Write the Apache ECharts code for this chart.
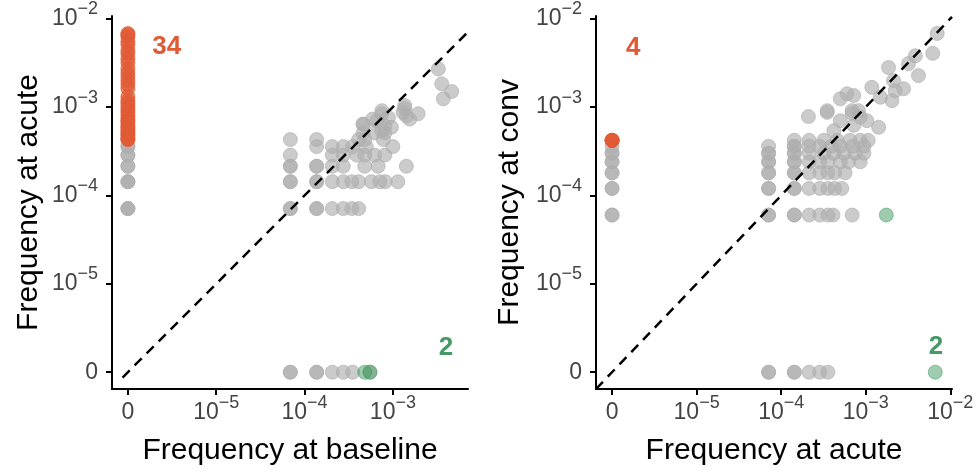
<!DOCTYPE html>
<html>
<head>
<meta charset="utf-8">
<script src="https://cdn.jsdelivr.net/npm/echarts@6/dist/echarts.min.js"></script>
<style>
  html, body { margin: 0; padding: 0; background: #fff; }
  #main { width: 976px; height: 475px; }
</style>
</head>
<body>
<div id="main"></div>
<script>
// frequencies; 0 is drawn at the 1e-6 position
var leftGray = [
    // baseline = 0
    [0, 7.1e-5], [0, 7.1e-5], [0, 7.1e-5], [0, 1.43e-4], [0, 1.43e-4], [0, 1.43e-4],
    [0, 2.14e-4], [0, 2.14e-4], [0, 2.86e-4], [0, 2.86e-4], [0, 3.57e-4], [0, 3.57e-4],
    // acute = 0
    [6.9e-5, 0], [6.9e-5, 0], [1.37e-4, 0], [1.37e-4, 0], [2.06e-4, 0], [2.74e-4, 0], [3.5e-4, 0], [5.5e-4, 0],
    // rows of low counts
    [6.9e-5, 7.1e-5], [6.9e-5, 7.1e-5], [1.37e-4, 7.1e-5], [1.37e-4, 7.1e-5], [2.06e-4, 7.1e-5],
    [2.74e-4, 7.1e-5], [3.43e-4, 7.1e-5], [4.1e-4, 7.1e-5],
    [6.9e-5, 1.43e-4], [6.9e-5, 1.43e-4], [1.37e-4, 1.43e-4], [1.37e-4, 1.43e-4], [2.06e-4, 1.43e-4],
    [2.74e-4, 1.43e-4], [3.43e-4, 1.43e-4], [4.1e-4, 1.43e-4], [5.7e-4, 1.43e-4], [7.1e-4, 1.43e-4],
    [8.2e-4, 1.43e-4], [1.14e-3, 1.43e-4],
    [6.9e-5, 2.14e-4], [6.9e-5, 2.14e-4], [1.37e-4, 2.14e-4], [1.37e-4, 2.14e-4], [2.06e-4, 2.14e-4],
    [2.74e-4, 2.14e-4], [4.8e-4, 2.14e-4], [6.8e-4, 2.14e-4], [1.42e-3, 2.14e-4],
    [6.9e-5, 2.86e-4], [2.06e-4, 2.86e-4], [2.74e-4, 2.86e-4], [3.9e-4, 2.86e-4], [4.8e-4, 2.86e-4],
    [6.2e-4, 2.86e-4], [8.1e-4, 2.86e-4],
    [1.37e-4, 3.57e-4], [2.06e-4, 3.57e-4], [2.74e-4, 3.57e-4], [3.5e-4, 3.57e-4], [5.0e-4, 3.57e-4],
    [1.0e-3, 3.57e-4],
    [6.9e-5, 4.29e-4], [1.37e-4, 4.29e-4], [4.1e-4, 4.29e-4], [4.8e-4, 4.29e-4], [7.8e-4, 4.29e-4],
    // upper cluster
    [4.6e-4, 5.1e-4], [6.2e-4, 5.1e-4], [8.1e-4, 5.1e-4], [4.6e-4, 6.4e-4], [4.6e-4, 6.4e-4],
    [8.1e-4, 6.1e-4], [5.9e-4, 7.3e-4], [6.6e-4, 7.0e-4], [7.5e-4, 8.4e-4], [7.5e-4, 9.1e-4],
    [8.9e-4, 7.6e-4], [9.6e-4, 5.9e-4], [7.5e-4, 5.4e-4], [1.36e-3, 1.04e-3], [1.36e-3, 9.6e-4],
    [1.30e-3, 8.7e-4], [1.55e-3, 7.3e-4], [1.93e-3, 8.4e-4], [1.42e-3, 7.9e-4],
    [3.27e-3, 2.7e-3], [3.57e-3, 1.83e-3], [4.63e-3, 1.5e-3], [3.72e-3, 1.24e-3]
];
var leftOrangeAcute = [
    6.78e-3, 6.59e-3, 6.26e-3, 5.50e-3, 5.08e-3, 4.35e-3, 4.02e-3, 3.53e-3, 3.18e-3, 2.72e-3,
    2.45e-3, 2.21e-3, 1.99e-3, 1.80e-3, 1.62e-3, 1.31e-3, 1.18e-3, 1.10e-3, 1.01e-3, 9.4e-4,
    8.7e-4, 8.0e-4, 7.4e-4, 7.0e-4, 6.7e-4, 6.2e-4, 5.9e-4, 5.6e-4, 5.3e-4, 5.0e-4,
    4.8e-4, 4.5e-4, 4.3e-4, 4.3e-4
];
var leftGreen = [[4.8e-4, 0], [5.5e-4, 0]];

var rightGray = [
    // acute = 0
    [0, 6e-5], [0, 6e-5], [0, 1.2e-4], [0, 1.2e-4], [0, 1.8e-4], [0, 1.8e-4],
    [0, 2.4e-4], [0, 2.4e-4], [0, 3.0e-4], [0, 3.0e-4], [0, 3.6e-4],
    // conv = 0
    [7.1e-5, 0], [7.1e-5, 0], [1.43e-4, 0], [1.43e-4, 0], [2.14e-4, 0], [2.86e-4, 0], [3.57e-4, 0],
    // rows of low counts
    [7.1e-5, 6e-5], [7.1e-5, 6e-5], [1.43e-4, 6e-5], [1.43e-4, 6e-5], [2.14e-4, 6e-5], [2.86e-4, 6e-5],
    [3.57e-4, 6e-5], [4.1e-4, 6e-5], [6.9e-4, 6e-5],
    [7.1e-5, 1.2e-4], [7.1e-5, 1.2e-4], [1.43e-4, 1.2e-4], [1.43e-4, 1.2e-4], [2.14e-4, 1.2e-4],
    [2.86e-4, 1.2e-4], [3.57e-4, 1.2e-4], [4.29e-4, 1.2e-4], [5.2e-4, 1.2e-4],
    [7.1e-5, 1.8e-4], [7.1e-5, 1.8e-4], [1.43e-4, 1.8e-4], [1.43e-4, 1.8e-4], [2.14e-4, 1.8e-4],
    [2.86e-4, 1.8e-4], [3.57e-4, 1.8e-4], [4.29e-4, 1.8e-4], [5.7e-4, 1.8e-4],
    [7.1e-5, 2.4e-4], [7.1e-5, 2.4e-4], [1.43e-4, 2.4e-4], [1.43e-4, 2.4e-4], [2.14e-4, 2.4e-4],
    [2.86e-4, 2.4e-4], [3.57e-4, 2.4e-4], [5.0e-4, 2.4e-4], [6.3e-4, 2.4e-4], [8.6e-4, 2.4e-4],
    [7.1e-5, 3.0e-4], [7.1e-5, 3.0e-4], [1.43e-4, 3.0e-4], [1.43e-4, 3.0e-4], [2.14e-4, 3.0e-4],
    [3.2e-4, 3.0e-4], [4.2e-4, 3.0e-4], [5.5e-4, 3.0e-4], [7.5e-4, 3.0e-4], [9.5e-4, 3.0e-4],
    [7.1e-5, 3.6e-4], [1.43e-4, 3.6e-4], [1.43e-4, 3.6e-4], [2.14e-4, 3.6e-4], [2.86e-4, 3.6e-4],
    [3.9e-4, 3.6e-4], [5.0e-4, 3.6e-4], [7.0e-4, 3.6e-4], [9.5e-4, 3.6e-4],
    [1.43e-4, 4.2e-4], [2.14e-4, 4.2e-4], [3.2e-4, 4.2e-4], [4.6e-4, 4.2e-4], [6.5e-4, 4.2e-4],
    [8.6e-4, 4.2e-4], [1.07e-3, 4.2e-4],
    // upper cluster
    [4.2e-4, 5.4e-4], [7.2e-4, 6.2e-4], [5.0e-4, 7.0e-4], [1.03e-3, 7.0e-4], [1.42e-3, 5.9e-4],
    [8.6e-4, 7.7e-4], [2.1e-4, 7.8e-4], [3.5e-4, 8.7e-4], [3.5e-4, 9.1e-4], [8.2e-4, 9.1e-4],
    [6.9e-4, 9.1e-4], [6.9e-4, 8.5e-4], [5.0e-4, 1.24e-3], [6.0e-4, 1.41e-3], [7.2e-4, 1.35e-3],
    [1.18e-3, 1.67e-3], [1.49e-3, 1.29e-3], [2.04e-3, 1.18e-3], [2.13e-3, 1.99e-3], [2.23e-3, 1.53e-3],
    [2.8e-3, 1.61e-3], [1.86e-3, 2.8e-3], [4.2e-3, 2.27e-3], [3.2e-3, 3.1e-3], [3.86e-3, 3.8e-3],
    [6.2e-3, 4.05e-3], [7.0e-3, 6.8e-3]
];
var rightOrange = [[0, 4.2e-4], [0, 4.2e-4], [0, 4.2e-4], [0, 4.2e-4]];
var rightGreen = [[1.75e-3, 6e-5], [6.64e-3, 0]];

var leftTicks = [-6, -5, -4, -3];
var rightTicks = [-6, -5, -4, -3, -2];
var leftNotes = [['34', -5.56, -2.32, 'orange'], ['2', -2.40, -5.72, 'green']];
var rightNotes = [['4', -5.75, -2.33, 'orange'], ['2', -2.17, -5.71, 'green']];

var FONT = 'Liberation Sans, Arial, sans-serif';
var ORANGE = '#e05a35';
var GREEN = '#3f9a5f';
var noteColor = { orange: '#e05a35', green: '#459a65' };

function toLog(v) {
    return v === 0 ? -6 : Math.log10(v);
}
function toXY(p) {
    return [toLog(p[0]), toLog(p[1])];
}
function tickText(v) {
    if (Math.round(v) === -6) return '{b|0}';
    return '{b|10}{s|\u2212' + Math.round(-v) + '}';
}

var labelRich = {
    b: { fontSize: 23, lineHeight: 23, verticalAlign: 'middle', color: '#444', fontFamily: FONT },
    s: { fontSize: 18, lineHeight: 18, padding: [0, 0, 19, 0], verticalAlign: 'middle', color: '#444', fontFamily: FONT }
};

function makeAxis(grid, ticks, min, max, name, gap, isY) {
    return {
        type: 'value',
        gridIndex: grid,
        min: min,
        max: max,
        name: name,
        nameLocation: 'middle',
        nameGap: gap,
        nameTextStyle: { fontSize: 30, color: '#000', fontFamily: FONT },
        axisLine: { show: true, onZero: false, lineStyle: { color: '#000', width: 2 } },
        axisTick: { show: true, length: 6, customValues: ticks, lineStyle: { color: '#000', width: 2 } },
        axisLabel: {
            customValues: ticks,
            formatter: tickText,
            rich: labelRich,
            fontSize: 23,
            color: '#444',
            fontFamily: FONT,
            margin: isY ? 14 : 12
        },
        splitLine: { show: false }
    };
}

function dots(data, ax, color, opacity, z) {
    return {
        type: 'scatter',
        xAxisIndex: ax,
        yAxisIndex: ax,
        data: data.map(toXY),
        symbolSize: 14,
        silent: true,
        z: z,
        itemStyle: { color: color, opacity: opacity, borderColor: color, borderWidth: 1 }
    };
}

function notes(list, ax) {
    return {
        type: 'scatter',
        xAxisIndex: ax,
        yAxisIndex: ax,
        symbolSize: 0,
        silent: true,
        z: 10,
        data: list.map(function (n) {
            return { name: n[0], value: [n[1], n[2]], label: { color: noteColor[n[3]] } };
        }),
        label: {
            show: true,
            position: 'inside',
            formatter: '{b}',
            fontSize: 26,
            fontWeight: 'bold',
            fontFamily: FONT,
            textBorderWidth: 0,
            textBorderColor: 'transparent',
            opacity: 1
        }
    };
}

function diagonal(ax, from, to) {
    return {
        type: 'line',
        xAxisIndex: ax,
        yAxisIndex: ax,
        data: [[from, from], [to, to]],
        symbol: 'none',
        silent: true,
        z: 8,
        lineStyle: { color: '#000', width: 2.5, type: [10, 7] }
    };
}

var myChart = echarts.init(document.getElementById('main'));
myChart.setOption({
    animation: false,
    backgroundColor: '#fff',
    grid: [
        { left: 112, top: 16, width: 356, height: 373, containLabel: false, outerBoundsMode: 'none' },
        { left: 596, top: 16, width: 356, height: 373, containLabel: false, outerBoundsMode: 'none' }
    ],
    xAxis: [
        makeAxis(0, leftTicks, -6.18, -2.15, 'Frequency at baseline', 47, false),
        makeAxis(1, rightTicks, -6.19, -1.98, 'Frequency at acute', 47, false)
    ],
    yAxis: [
        makeAxis(0, rightTicks, -6.19, -1.97, 'Frequency at acute', 68, true),
        makeAxis(1, rightTicks, -6.19, -1.97, 'Frequency at conv', 71, true)
    ],
    series: [
        dots(leftGray, 0, '#adadad', 0.64, 2),
        dots(leftOrangeAcute.map(function (v) { return [0, v]; }), 0, ORANGE, 0.72, 3),
        dots(leftGreen, 0, GREEN, 0.5, 4),
        diagonal(0, -6.06, -2.15),
        notes(leftNotes, 0),
        dots(rightGray, 1, '#adadad', 0.64, 2),
        dots(rightOrange, 1, ORANGE, 0.72, 3),
        dots(rightGreen, 1, GREEN, 0.5, 4),
        diagonal(1, -6.19, -1.98),
        notes(rightNotes, 1)
    ]
});
</script>
</body>
</html>
